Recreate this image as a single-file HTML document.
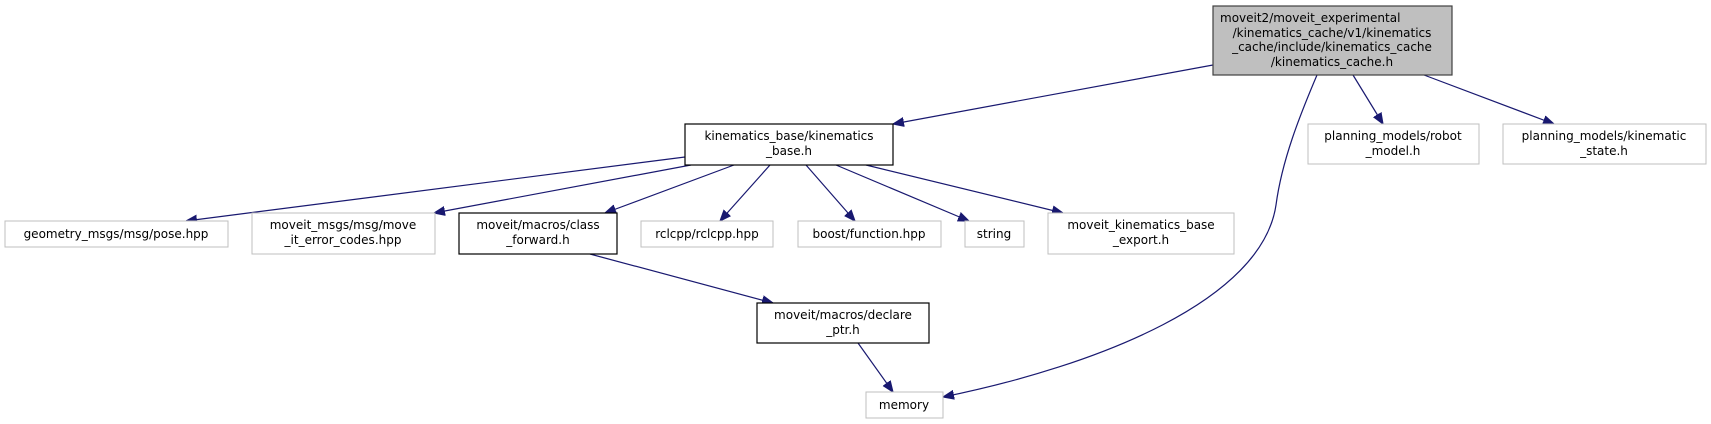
<!DOCTYPE html>
<html><head><meta charset="utf-8"><style>
html,body{margin:0;padding:0;background:#fff;}
svg{display:block;}
text{font-family:"DejaVu Sans","Liberation Sans",sans-serif;font-size:12px;fill:#000;text-anchor:middle;}
.e{stroke:#191970;stroke-width:1.2;fill:none;}
.a{fill:#191970;stroke:#191970;}
</style></head><body>
<svg width="1711" height="424" viewBox="0 0 1711 424" xmlns="http://www.w3.org/2000/svg">
<defs><marker id="m" viewBox="0 0 10 10" refX="10" refY="5" markerWidth="11" markerHeight="11" markerUnits="userSpaceOnUse" orient="auto"><path d="M0,1 L10,5 L0,9 z" class="a"/></marker></defs>

<!-- edges -->
<line class="e" x1="1213" y1="65" x2="893" y2="124" marker-end="url(#m)"/>
<path class="e" d="M1317,75 C1300,115 1282,160 1276,205 C1262,300 1100,365 943,397" marker-end="url(#m)"/>
<line class="e" x1="1353" y1="75" x2="1383" y2="124" marker-end="url(#m)"/>
<line class="e" x1="1424" y1="75" x2="1554" y2="124" marker-end="url(#m)"/>
<line class="e" x1="685" y1="157" x2="186" y2="221" marker-end="url(#m)"/>
<line class="e" x1="691" y1="165" x2="434" y2="213" marker-end="url(#m)"/>
<line class="e" x1="734" y1="165" x2="605" y2="213" marker-end="url(#m)"/>
<line class="e" x1="770" y1="165" x2="720" y2="221" marker-end="url(#m)"/>
<line class="e" x1="806" y1="165" x2="855" y2="221" marker-end="url(#m)"/>
<line class="e" x1="836" y1="165" x2="969" y2="221" marker-end="url(#m)"/>
<line class="e" x1="866" y1="165" x2="1063" y2="213" marker-end="url(#m)"/>
<line class="e" x1="590" y1="254" x2="773" y2="303" marker-end="url(#m)"/>
<line class="e" x1="858" y1="343" x2="893" y2="392" marker-end="url(#m)"/>

<!-- main -->
<rect x="1213" y="6" width="239" height="69" fill="#bfbfbf" stroke="#404040" stroke-width="1.2"/>
<text x="1220" y="22" style="text-anchor:start">moveit2/moveit_experimental</text>
<text x="1332" y="37">/kinematics_cache/v1/kinematics</text>
<text x="1332" y="51">_cache/include/kinematics_cache</text>
<text x="1332" y="66">/kinematics_cache.h</text>

<rect x="685" y="124" width="208" height="41" fill="#fff" stroke="#000" stroke-width="1.2"/>
<text x="789" y="140">kinematics_base/kinematics</text>
<text x="789" y="155">_base.h</text>

<rect x="1308" y="124" width="171" height="40" fill="#fff" stroke="#bfbfbf"/>
<text x="1393" y="140">planning_models/robot</text>
<text x="1393" y="155">_model.h</text>

<rect x="1503" y="124" width="203" height="40" fill="#fff" stroke="#bfbfbf"/>
<text x="1604" y="140">planning_models/kinematic</text>
<text x="1604" y="155">_state.h</text>

<rect x="5" y="221" width="223" height="26" fill="#fff" stroke="#bfbfbf"/>
<text x="116" y="238">geometry_msgs/msg/pose.hpp</text>

<rect x="252" y="213" width="183" height="41" fill="#fff" stroke="#bfbfbf"/>
<text x="343" y="229">moveit_msgs/msg/move</text>
<text x="343" y="244">_it_error_codes.hpp</text>

<rect x="459" y="213" width="158" height="41" fill="#fff" stroke="#000" stroke-width="1.2"/>
<text x="538" y="229">moveit/macros/class</text>
<text x="538" y="244">_forward.h</text>

<rect x="641" y="221" width="132" height="26" fill="#fff" stroke="#bfbfbf"/>
<text x="707" y="238">rclcpp/rclcpp.hpp</text>

<rect x="798" y="221" width="143" height="26" fill="#fff" stroke="#bfbfbf"/>
<text x="869" y="238">boost/function.hpp</text>

<rect x="965" y="221" width="59" height="26" fill="#fff" stroke="#bfbfbf"/>
<text x="994" y="238">string</text>

<rect x="1048" y="213" width="186" height="41" fill="#fff" stroke="#bfbfbf"/>
<text x="1141" y="229">moveit_kinematics_base</text>
<text x="1141" y="244">_export.h</text>

<rect x="757" y="303" width="172" height="40" fill="#fff" stroke="#000" stroke-width="1.2"/>
<text x="843" y="319">moveit/macros/declare</text>
<text x="843" y="334">_ptr.h</text>

<rect x="866" y="392" width="77" height="26" fill="#fff" stroke="#bfbfbf"/>
<text x="904" y="409">memory</text>
</svg>
</body></html>
